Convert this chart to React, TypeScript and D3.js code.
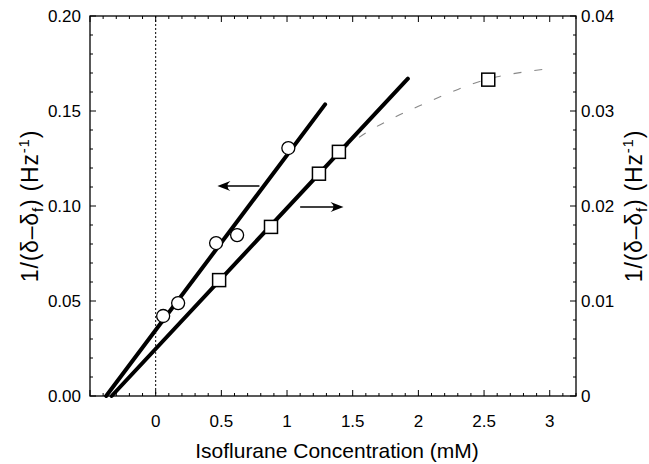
import React from "react";
import * as d3 from "d3";

// Circles (left axis)
const circleX = [0.057, 0.171, 0.46, 0.62, 1.01];
const circleY = [0.0421, 0.0489, 0.0805, 0.0847, 0.1305];
// Squares (right axis)
const squareX = [0.483, 0.878, 1.243, 1.395, 2.532];
const squareY = [0.0122, 0.0178, 0.0234, 0.0257, 0.0333];
// Fit lines
const circleFitX = [-0.377, 1.29];
const circleFitY = [0, 0.1535];
const squareFitX = [-0.335, 1.92];
const squareFitY = [0, 0.0334];
// Dashed binding curve (right axis)
const curveX = [1.42, 1.6, 1.8, 2.0, 2.2, 2.4, 2.6, 2.8, 3.02];
const curveY = [0.0259, 0.0277, 0.0292, 0.0305, 0.0317, 0.0328, 0.0336, 0.0341, 0.0345];
// Tick labels
const xTickVals = [0, 0.5, 1, 1.5, 2, 2.5, 3];
const xTickLabels = ["0", "0.5", "1", "1.5", "2", "2.5", "3"];
const yLeftTickVals = [0, 0.05, 0.1, 0.15, 0.2];
const yLeftTickLabels = ["0.00", "0.05", "0.10", "0.15", "0.20"];
const yRightTickVals = [0, 0.01, 0.02, 0.03, 0.04];
const yRightTickLabels = ["0", "0.01", "0.02", "0.03", "0.04"];

const W = 649, H = 464;
const L = 90, R = 576, T = 16, B = 396;
const FONT = "'Liberation Sans', Arial, Helvetica, sans-serif";

function YTitle({ x, y }: { x: number; y: number }) {
  return (
    <text transform={`translate(${x},${y}) rotate(-90)`} textAnchor="middle" fontSize={23} letterSpacing={0.8}>
      1/(δ–δ<tspan fontSize={15} dy={5}>f</tspan>
      <tspan dy={-5}>) (Hz</tspan>
      <tspan fontSize={15} dy={-9}>-1</tspan>
      <tspan dy={9}>)</tspan>
    </text>
  );
}

export default function App() {
  const x = d3.scaleLinear().domain([-0.5, 3.2]).range([L, R]);
  const yL = d3.scaleLinear().domain([0, 0.2]).range([B, T]);
  const yR = d3.scaleLinear().domain([0, 0.04]).range([B, T]);

  const xMinor = d3.range(-5, 33).map((i) => i / 10);
  const yLMinor = d3.range(0, 21).map((i) => i / 100);
  const yRMinor = d3.range(0, 21).map((i) => i / 500);

  const lineL = d3.line<number>().x((_, i) => x(circleFitX[i])).y((d) => yL(d));
  const lineR = d3.line<number>().x((_, i) => x(squareFitX[i])).y((d) => yR(d));
  const curve = d3
    .line<number>()
    .x((_, i) => x(curveX[i]))
    .y((d) => yR(d))
    .curve(d3.curveMonotoneX);

  const MAJ = 6, MIN = 3;
  const isMajor = (v: number, step: number) => Math.abs(v / step - Math.round(v / step)) < 1e-6;

  const arrow = (x1: number, x2: number, y: number) => {
    const dir = x2 > x1 ? 1 : -1;
    const tip = x2;
    const hl = 13, hw = 5;
    const head = `M${tip},${y} L${tip - dir * hl},${y - hw} Q${tip - dir * hl * 0.55},${y} ${tip - dir * hl},${y + hw} Z`;
    return (
      <g>
        <line x1={x1} y1={y} x2={tip - dir * 6} y2={y} stroke="#000" strokeWidth={1.6} />
        <path d={head} fill="#000" />
      </g>
    );
  };

  return (
    <div style={{ position: "absolute", left: 0, top: 0 }}>
      <svg width={W} height={H} style={{ display: "block", background: "#fff" }} fontFamily={FONT}>
        <rect width={W} height={H} fill="#fff" />
        {/* dotted zero line */}
        <line x1={x(0)} x2={x(0)} y1={T} y2={B} stroke="#000" strokeWidth={1} strokeDasharray="2,2" />

        {/* frame */}
        <rect x={L} y={T} width={R - L} height={B - T} fill="none" stroke="#000" strokeWidth={1.3} />

        {/* x ticks bottom & top */}
        {xMinor.map((v, i) => {
          const len = isMajor(v, 0.5) ? MAJ : MIN;
          return (
            <g key={"xt" + i}>
              <line x1={x(v)} x2={x(v)} y1={B} y2={B - len} stroke="#000" strokeWidth={1} />
              <line x1={x(v)} x2={x(v)} y1={T} y2={T + len} stroke="#000" strokeWidth={1} />
            </g>
          );
        })}
        {yLMinor.map((v, i) => {
          const len = isMajor(v, 0.05) ? MAJ : MIN;
          return <line key={"yl" + i} x1={L} x2={L + len} y1={yL(v)} y2={yL(v)} stroke="#000" strokeWidth={1} />;
        })}
        {yRMinor.map((v, i) => {
          const len = isMajor(v, 0.01) ? MAJ : MIN;
          return <line key={"yr" + i} x1={R} x2={R - len} y1={yR(v)} y2={yR(v)} stroke="#000" strokeWidth={1} />;
        })}

        {/* tick labels */}
        {xTickVals.map((v, i) => (
          <text key={"xl" + i} x={x(v)} y={427} textAnchor="middle" fontSize={17}>
            {xTickLabels[i]}
          </text>
        ))}
        {yLeftTickVals.map((v, i) => (
          <text key={"yll" + i} x={L - 9} y={yL(v) + 6} textAnchor="end" fontSize={17}>
            {yLeftTickLabels[i]}
          </text>
        ))}
        {yRightTickVals.map((v, i) => (
          <text key={"yrl" + i} x={R + 5} y={yR(v) + 6} textAnchor="start" fontSize={17}>
            {yRightTickLabels[i]}
          </text>
        ))}

        {/* axis titles */}
        <text x={(L + R) / 2 + 4} y={458} textAnchor="middle" fontSize={21}>
          Isoflurane Concentration (mM)
        </text>
        <YTitle x={38} y={(T + B) / 2} />
        <YTitle x={642} y={(T + B) / 2} />

        {/* dashed curve */}
        <path d={curve(curveY) || ""} fill="none" stroke="#888" strokeWidth={1.1} strokeDasharray="8,13" />

        {/* fit lines */}
        <path d={lineL(circleFitY) || ""} fill="none" stroke="#000" strokeWidth={4} strokeLinecap="round" />
        <path d={lineR(squareFitY) || ""} fill="none" stroke="#000" strokeWidth={4} strokeLinecap="round" />

        {/* arrows */}
        {arrow(x(0.79), x(0.47), yL(0.1105))}
        {arrow(x(1.1), x(1.43), yL(0.0995))}

        {/* markers */}
        {circleX.map((v, i) => (
          <circle key={"c" + i} cx={x(v)} cy={yL(circleY[i])} r={6.5} fill="#fff" stroke="#000" strokeWidth={1.3} />
        ))}
        {squareX.map((v, i) => (
          <rect key={"s" + i} x={x(v) - 6.5} y={yR(squareY[i]) - 6.5} width={13} height={13} fill="#fff" stroke="#000" strokeWidth={1.5} />
        ))}
      </svg>
    </div>
  );
}
